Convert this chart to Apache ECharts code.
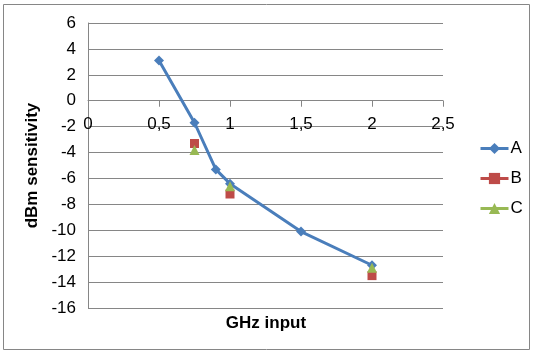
<!DOCTYPE html>
<html>
<head>
<meta charset="utf-8">
<script src="https://cdn.jsdelivr.net/npm/echarts@6/dist/echarts.min.js"></script>
<style>
  html, body { margin: 0; padding: 0; background: #fff; }
  #chart { width: 534px; height: 355px; }
</style>
</head>
<body>
<div id="chart"></div>
<script>
// values
const seriesNames = ['A', 'B', 'C'];
const xA = [0.5, 0.75, 0.9, 1, 1.5, 2];
const yA = [3.1, -1.7, -5.3, -6.4, -10.1, -12.7];
const xB = [0.75, 1, 2];
const yB = [-3.3, -7.2, -13.5];
const xC = [0.75, 1, 2];
const yC = [-3.8, -6.6, -12.9];
const colors = ['#4a7ebb', '#be4b48', '#98b954'];
const symbols = ['diamond', 'rect', 'triangle'];

const pairs = (xs, ys) => xs.map((x, i) => [x, ys[i]]);
const FONT = 'Liberation Sans';
const FS = 17;

const chart = echarts.init(document.getElementById('chart'));

chart.setOption({
  animation: false,
  textStyle: { fontFamily: FONT },
  graphic: [{
    type: 'rect',
    shape: { x: 3.5, y: 4.5, width: 526, height: 345 },
    style: { fill: 'none', stroke: '#868686', lineWidth: 1 },
    silent: true
  }, {
    type: 'text',
    style: { text: 'GHz input', fontSize: FS, fontWeight: 'bold', fill: '#000', fontFamily: FONT, x: 266, y: 323, align: 'center', verticalAlign: 'middle' },
    silent: true
  }],
  grid: { left: 88, right: 91, top: 23, bottom: 47 },
  legend: {
    orient: 'vertical',
    left: 474,
    top: 135,
    itemWidth: 28,
    itemHeight: 14,
    itemGap: 13,
    textStyle: { fontSize: FS, color: '#000', fontFamily: FONT, padding: [0, 0, 0, -3] },
    data: seriesNames.map((n, i) => ({
      name: n,
      lineStyle: { color: colors[i], width: 3, opacity: 1 }
    }))
  },
  xAxis: {
    type: 'value',
    min: 0,
    max: 2.5,
    interval: 0.5,
    axisLine: { onZero: false, lineStyle: { color: '#868686', width: 1 } },
    axisTick: { show: true, inside: false, length: 6, lineStyle: { color: '#868686' } },
    axisLabel: {
      fontSize: FS, color: '#000', margin: 15,
      formatter: v => String(v).replace('.', ',')
    },
    splitLine: { show: false }
  },
  yAxis: {
    type: 'value',
    min: -16,
    max: 6,
    interval: 2,
    name: 'dBm sensitivity',
    nameLocation: 'middle',
    nameGap: 46,
    nameTextStyle: { fontSize: FS, fontWeight: 'bold', color: '#000' },
    axisLine: { show: true, onZero: false, lineStyle: { color: '#868686', width: 1 } },
    axisTick: { show: false },
    axisLabel: { fontSize: FS, color: '#000', margin: 12 },
    splitLine: { lineStyle: { color: '#868686', width: 1 } }
  },
  series: [
    {
      name: 'A', type: 'line', data: pairs(xA, yA),
      symbol: symbols[0], symbolSize: 10, showAllSymbol: true,
      lineStyle: { color: colors[0], width: 3 },
      itemStyle: { color: colors[0] }
    },
    {
      name: 'B', type: 'line', data: pairs(xB, yB),
      symbol: symbols[1], symbolSize: 9,
      lineStyle: { width: 0, opacity: 0 },
      itemStyle: { color: colors[1] }
    },
    {
      name: 'C', type: 'line', data: pairs(xC, yC),
      symbol: symbols[2], symbolSize: 10,
      lineStyle: { width: 0, opacity: 0 },
      itemStyle: { color: colors[2] }
    }
  ]
});

// move the x axis up to the zero line of the y scale, as Excel draws it
const yZero = chart.convertToPixel({ yAxisIndex: 0 }, 0);
const yMin = chart.convertToPixel({ yAxisIndex: 0 }, -16);
chart.setOption({ xAxis: { offset: -(yMin - yZero) } });
</script>
</body>
</html>
